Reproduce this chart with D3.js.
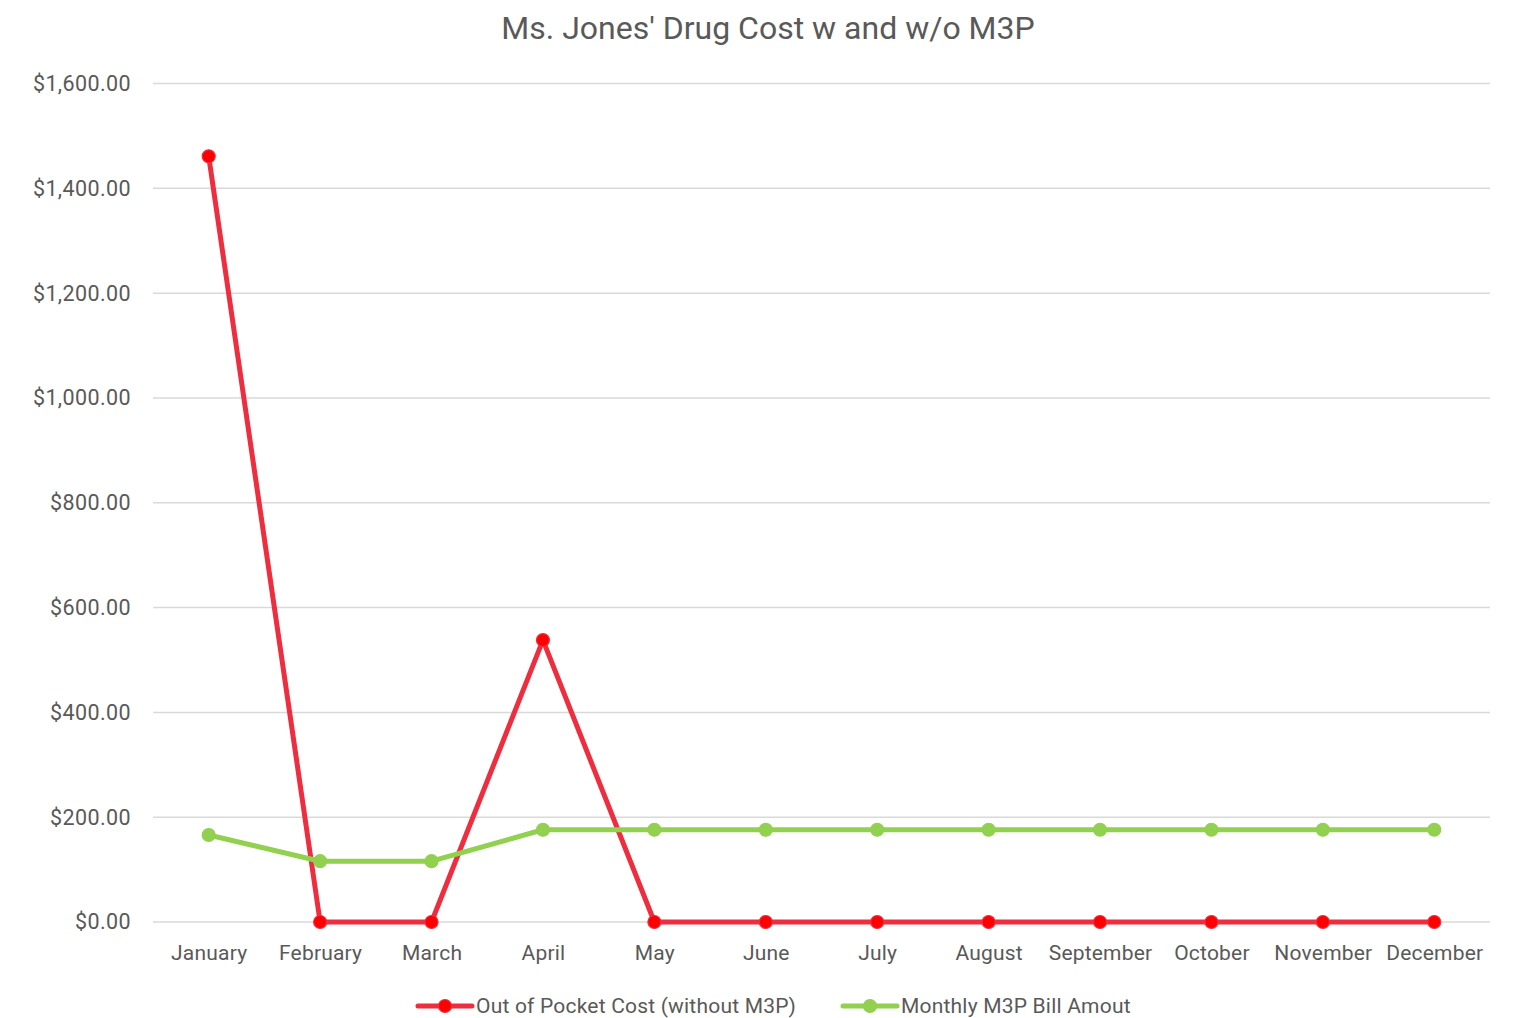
<!DOCTYPE html>
<html>
<head>
<meta charset="utf-8">
<script src="https://cdn.jsdelivr.net/npm/d3@7"></script>
<style>
  html, body { margin: 0; padding: 0; background: #fff; }
  svg { display: block; }
  text { font-family: Roboto, "Open Sans", sans-serif; fill: #595959; }
</style>
</head>
<body>
<svg id="chart" width="1518" height="1018"></svg>
<script>
const months = ["January", "February", "March", "April", "May", "June", "July",
  "August", "September", "October", "November", "December"];
const outOfPocket = [1461, 0, 0, 538, 0, 0, 0, 0, 0, 0, 0, 0];
const m3pBill = [166, 116, 116, 176, 176, 176, 176, 176, 176, 176, 176, 176];
const yTicks = [0, 200, 400, 600, 800, 1000, 1200, 1400, 1600];
const seriesNames = ["Out of Pocket Cost (without M3P)", "Monthly M3P Bill Amout"];
const title = "Ms. Jones' Drug Cost w and w/o M3P";

const svg = d3.select("#chart");
const plot = { left: 153, right: 1490, top: 83.5, bottom: 922 };

const x = d3.scalePoint().domain(months).range([plot.left, plot.right]).padding(0.5);
const y = d3.scaleLinear().domain([0, 1600]).range([plot.bottom, plot.top]);
const fmt = v => "$" + d3.format(",.2f")(v);

// gridlines
svg.append("g").selectAll("line").data(yTicks).join("line")
  .attr("x1", plot.left).attr("x2", plot.right)
  .attr("y1", d => y(d)).attr("y2", d => y(d))
  .attr("stroke", "#d9d9d9").attr("stroke-width", 1.5);

// y axis labels
const yAxis = svg.append("g").attr("transform", `translate(${plot.left - 22},0)`)
  .call(d3.axisLeft(y).tickValues(yTicks).tickFormat(fmt).tickSize(0).tickPadding(0));
yAxis.select(".domain").remove();
yAxis.selectAll("text").style("font-size", "21.5px").attr("fill", "#595959")
  .attr("font-family", "Roboto, sans-serif").attr("letter-spacing", "0.4px");

// x axis labels
const xAxis = svg.append("g").attr("transform", `translate(0,${plot.bottom + 31})`)
  .call(d3.axisBottom(x).tickSize(0).tickPadding(0));
xAxis.select(".domain").remove();
xAxis.selectAll("text").style("font-size", "21px").attr("fill", "#595959")
  .attr("dy", "0.35em").attr("font-family", "Roboto, sans-serif")
  .attr("letter-spacing", "0.2px");

// title
svg.append("text").attr("x", 768).attr("y", 39).attr("text-anchor", "middle")
  .style("font-size", "32px").text(title);

const series = [
  { name: seriesNames[0], values: outOfPocket, line: "#EE2E3E", fill: "#FF0000" },
  { name: seriesNames[1], values: m3pBill, line: "#92D050", fill: "#92D050" }
];

const line = d3.line().x((d, i) => x(months[i])).y(d => y(d));

series.forEach(s => {
  const g = svg.append("g");
  g.append("path").datum(s.values).attr("d", line)
    .attr("fill", "none").attr("stroke", s.line).attr("stroke-width", 5)
    .attr("stroke-linejoin", "round");
  g.selectAll("circle").data(s.values).join("circle")
    .attr("cx", (d, i) => x(months[i])).attr("cy", d => y(d)).attr("r", 6.5)
    .attr("fill", s.fill).attr("stroke", s.line).attr("stroke-width", 1.2);
});

// legend
const legendX = [418, 843];
series.forEach((s, i) => {
  const g = svg.append("g").attr("transform", `translate(${legendX[i]},1006)`);
  g.append("line").attr("x1", 0).attr("x2", 54).attr("y1", 0).attr("y2", 0)
    .attr("stroke", s.line).attr("stroke-width", 5).attr("stroke-linecap", "round");
  g.append("circle").attr("cx", 27).attr("cy", 0).attr("r", 6.5)
    .attr("fill", s.fill).attr("stroke", s.line).attr("stroke-width", 1.2);
  g.append("text").attr("x", 58).attr("y", 0).attr("dy", "0.35em")
    .style("font-size", "21px").attr("letter-spacing", "0.2px").text(s.name);
});
</script>
</body>
</html>
